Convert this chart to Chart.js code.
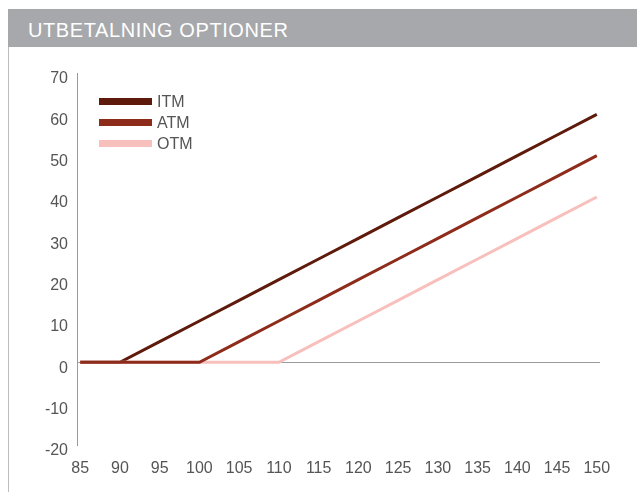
<!DOCTYPE html>
<html>
<head>
<meta charset="utf-8">
<script src="https://cdn.jsdelivr.net/npm/chart.js@4.4.1/dist/chart.umd.min.js"></script>
<style>
  html, body { margin: 0; padding: 0; background: #fff; }
  body { width: 637px; height: 492px; position: relative; overflow: hidden;
         font-family: "Liberation Sans", Arial, Helvetica, sans-serif; }
  #titlebar { position: absolute; left: 8px; top: 9px; width: 629px; height: 38px;
              background: #a7a8ab; }
  #titlebar span { position: absolute; left: 20px; top: 10px; color: #fff;
                   font-size: 20px; letter-spacing: 0.6px; line-height: 22px; }
  #leftrule { position: absolute; left: 8px; top: 47px; width: 1px; height: 445px; background: #bdbdbd; }
  #chart { position: absolute; left: 0; top: 0; }
  #legend { position: absolute; left: 99px; top: 91px; }
  .item { height: 21px; position: relative; }
  .item i { position: absolute; left: 0; top: 7px; width: 53px; height: 7px; }
  .item b { position: absolute; left: 58px; top: 1px; font-weight: normal; font-size: 16px;
            color: #555; line-height: 19px; }
</style>
</head>
<body>
<div id="titlebar"><span>UTBETALNING OPTIONER</span></div>
<div id="leftrule"></div>
<canvas id="chart" width="637" height="492"></canvas>
<div id="legend"></div>
<script>
// ═══ DATA ═══
const strikes = [85, 90, 95, 100, 105, 110, 115, 120, 125, 130, 135, 140, 145, 150];
const itm = [0, 0, 5, 10, 15, 20, 25, 30, 35, 40, 45, 50, 55, 60];
const atm = [0, 0, 0, 0, 5, 10, 15, 20, 25, 30, 35, 40, 45, 50];
const otm = [0, 0, 0, 0, 0, 0, 5, 10, 15, 20, 25, 30, 35, 40];
const yTicks = [-20, -10, 0, 10, 20, 30, 40, 50, 60, 70];

const seriesNames = ['ITM', 'ATM', 'OTM'];
const seriesColors = ['#5e1a0a', '#8e2c1c', '#f8c0bc'];
// ATM sits on top of the flat part, ITM at the bottom
const drawOrder = [2, 0, 1];

const toPts = arr => arr.map((v, i) => ({ x: strikes[i], y: v }));
const textColor = '#555';
const font = { family: '"Liberation Sans", Arial, Helvetica, sans-serif', size: 16 };

// legend (drawn as html inside the plot area)
const leg = document.getElementById('legend');
seriesNames.forEach((n, i) => {
  const d = document.createElement('div');
  d.className = 'item';
  d.innerHTML = '<i style="background:' + seriesColors[i] + '"></i><b>' + n + '</b>';
  leg.appendChild(d);
});

new Chart(document.getElementById('chart'), {
  type: 'line',
  data: {
    datasets: [itm, atm, otm].map((arr, i) => ({
      label: seriesNames[i],
      data: toPts(arr),
      borderColor: seriesColors[i],
      backgroundColor: seriesColors[i],
      borderWidth: 3,
      pointRadius: 0,
      tension: 0,
      order: drawOrder[i]
    }))
  },
  options: {
    responsive: false,
    animation: false,
    layout: { padding: { top: 73, right: 37, left: 0, bottom: 0 } },
    plugins: { legend: { display: false }, tooltip: { enabled: false } },
    scales: {
      x: {
        type: 'linear',
        min: 84.6,
        max: 150.4,
        afterBuildTicks: s => { s.ticks = strikes.map(v => ({ value: v })); },
        afterFit: s => { s.height = 47; },
        grid: { display: false },
        border: { display: false },
        ticks: { color: textColor, font, padding: 6, maxRotation: 0, autoSkip: false }
      },
      y: {
        min: -20,
        max: 70,
        afterBuildTicks: s => { s.ticks = yTicks.map(v => ({ value: v })); },
        afterFit: s => { s.width = 77; },
        grid: {
          drawTicks: false,
          color: c => (c.tick && c.tick.value === 0) ? '#9a9a9a' : 'rgba(0,0,0,0)',
          lineWidth: 1
        },
        border: { display: true, color: '#9a9a9a', width: 1 },
        ticks: { color: textColor, font, padding: 9, labelOffset: 6 }
      }
    }
  }
});
</script>
</body>
</html>
